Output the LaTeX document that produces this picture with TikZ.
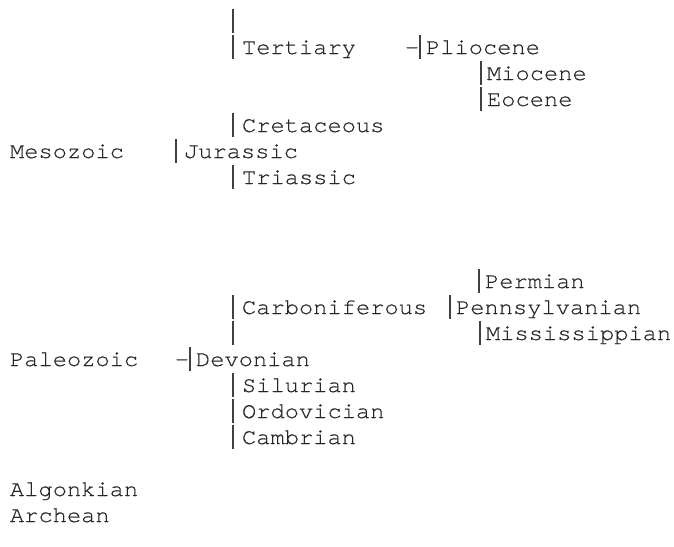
\documentclass[tikz,border=0pt]{standalone}
\usepackage{fontspec}
\newfontfamily\geomono[FakeStretch=1.06,FakeBold=0.4]{texgyrecursor-regular.otf}
\usetikzlibrary{calc}
\newcommand\vbarat[2]{\draw[barline] ($(#1.base west)+(#2,-19)$) -- ++(0,24);}
\begin{document}
\begin{tikzpicture}[x=0.75pt,y=-0.75pt,
  lbl/.style={anchor=base west,inner sep=0pt,outer sep=0pt,text=black!85,
    font=\geomono\fontsize{16.8pt}{19pt}\selectfont},
  dsh/.style={anchor=base,inner sep=0pt,outer sep=0pt,text=black!85,
    font=\geomono\fontsize{16.8pt}{19pt}\selectfont},
  barline/.style={line width=0.8pt,draw=black!75}]
\useasboundingbox (0,0) rectangle (674,546);
% top bar
\coordinate (topbar) at (233,28);
\draw[barline] ($(topbar)+(0,-19)$) -- ++(0,24);
% Tertiary group
\node[lbl] (tert) at (242,54) {Tertiary};
\node[dsh] (tdash) at (412,54) {-};
\node[lbl] (plio) at (426,54) {Pliocene};
\node[lbl] (mio) at (487,80) {Miocene};
\node[lbl] (eoc) at (487,106) {Eocene};
\node[lbl] (cret) at (242,132) {Cretaceous};
\node[lbl] (meso) at (10,158) {Mesozoic};
\node[lbl] (jur) at (184,158) {Jurassic};
\node[lbl] (tri) at (242,184) {Triassic};
% Paleozoic group
\node[lbl] (perm) at (485,288) {Permian};
\node[lbl] (carb) at (242,314) {Carboniferous};
\node[lbl] (penn) at (456,314) {Pennsylvanian};
\coordinate (carbbar) at (233,340);
\node[lbl] (miss) at (486,340) {Mississippian};
\node[lbl] (paleo) at (10,366) {Paleozoic};
\node[dsh] (pdash) at (182,366) {-};
\node[lbl] (dev) at (196,366) {Devonian};
\node[lbl] (sil) at (242,392) {Silurian};
\node[lbl] (ord) at (242,418) {Ordovician};
\node[lbl] (camb) at (242,444) {Cambrian};
\node[lbl] (algo) at (10,496) {Algonkian};
\node[lbl] (arch) at (10,522) {Archean};
% bars
\vbarat{tert}{-9}
\vbarat{plio}{-6}
\vbarat{mio}{-6}
\vbarat{eoc}{-6}
\vbarat{cret}{-9}
\vbarat{jur}{-8}
\vbarat{tri}{-9}
\vbarat{perm}{-6}
\vbarat{carb}{-9}
\vbarat{penn}{-6}
\draw[barline] ($(carbbar)+(0,-19)$) -- ++(0,24);
\vbarat{miss}{-6}
\vbarat{dev}{-6}
\vbarat{sil}{-9}
\vbarat{ord}{-9}
\vbarat{camb}{-9}
\end{tikzpicture}
\end{document}
